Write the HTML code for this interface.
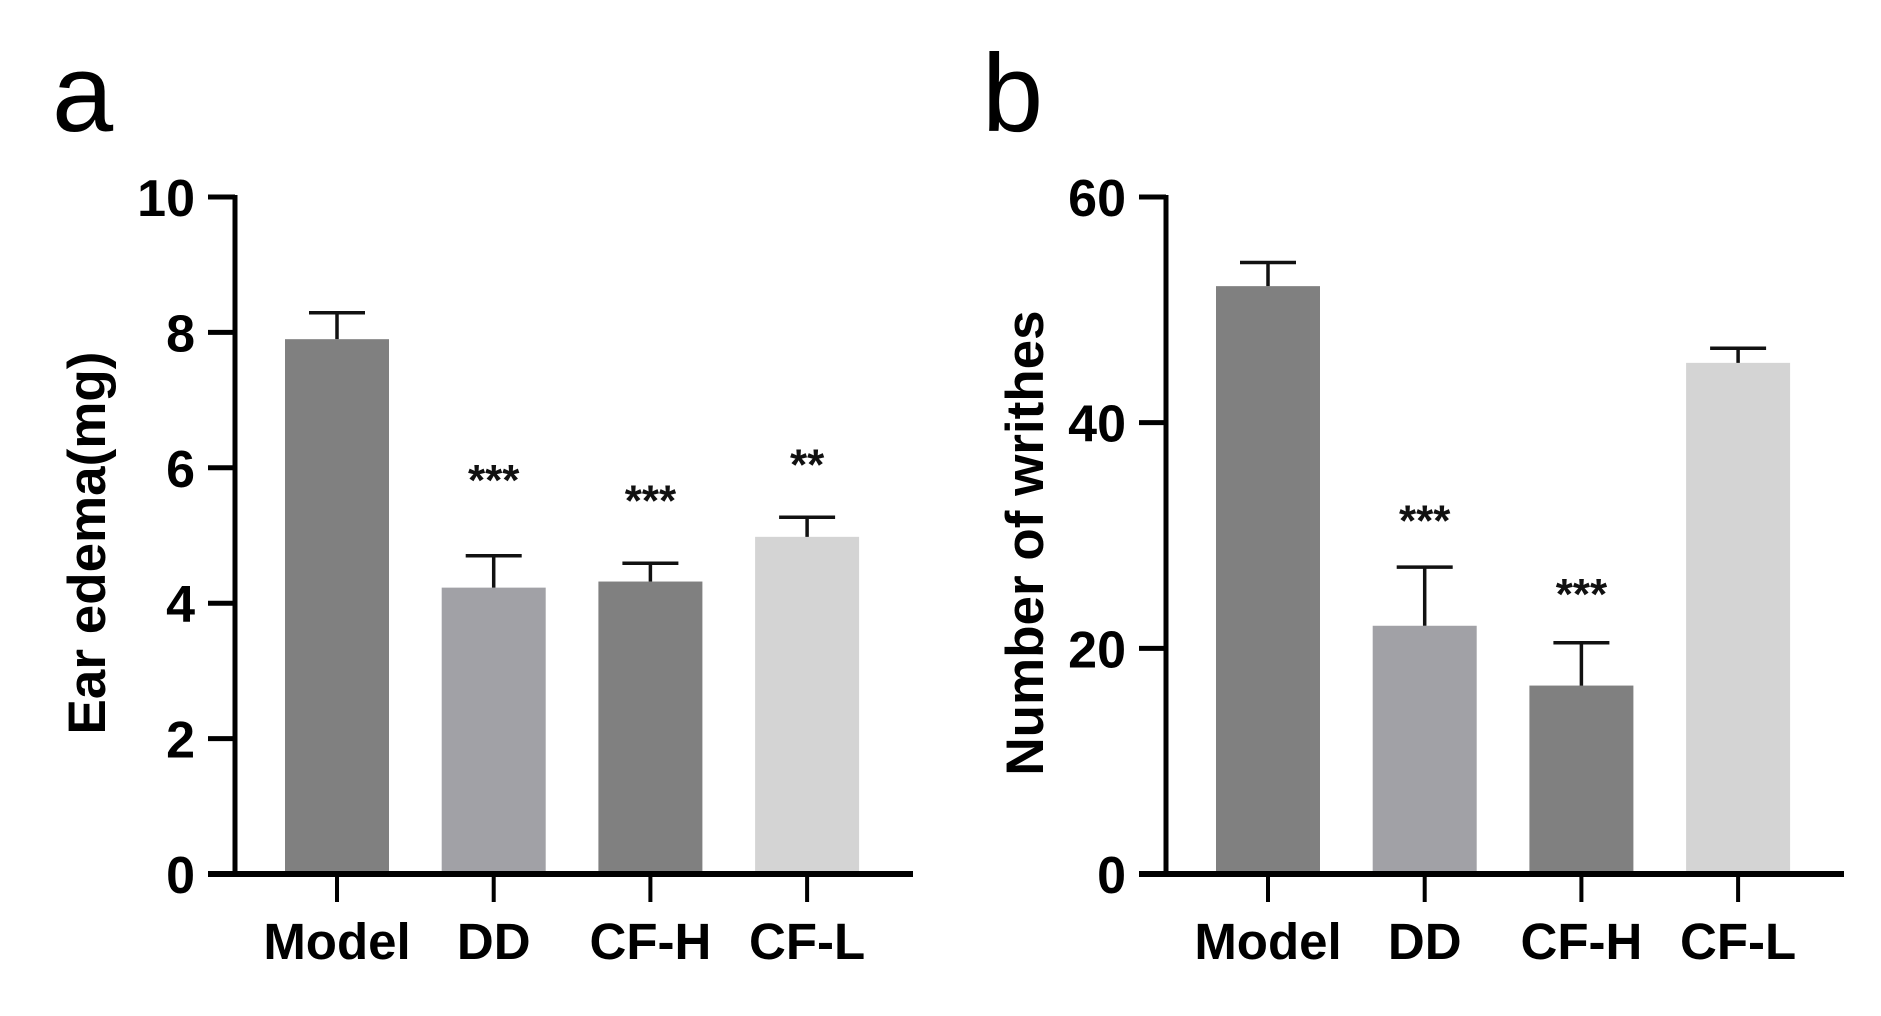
<!DOCTYPE html>
<html><head><meta charset="utf-8"><style>
html,body{margin:0;padding:0;background:#fff;}
svg{display:block;font-family:"Liberation Sans",Arial,sans-serif;}
</style></head><body>
<svg id="chart" width="1881" height="1016" viewBox="0 0 1881 1016"></svg>
<script>
const categories = ["Model","DD","CF-H","CF-L"];
const colors = ["#808080","#a1a1a6","#808080","#d4d4d4"];
const valuesA = [7.9, 4.23, 4.32, 4.98];
const errorsA = [8.29, 4.7, 4.59, 5.27];
const sigA = ["", "***", "***", "**"];
const sigPosA = [0, 5.85, 5.55, 6.08];
const ticksA = [0, 2, 4, 6, 8, 10];
const valuesB = [52.1, 22.0, 16.7, 45.3];
const errorsB = [54.2, 27.2, 20.5, 46.6];
const sigB = ["", "***", "***", ""];
const sigPosB = [0, 31.5, 25.0, 0];
const ticksB = [0, 20, 40, 60];

const NS = "http://www.w3.org/2000/svg";
const svg = document.getElementById("chart");
function mk(tag, attrs, parent){
  const e = document.createElementNS(NS, tag);
  for (const k in attrs) e.setAttribute(k, attrs[k]);
  (parent||svg).appendChild(e);
  return e;
}

function panel(opt){
  const g = mk("g", {});
  
  
  const x0 = opt.ox, yTop = 197, yBot = 874;
  const y = v => yBot - (v - 0) / opt.max * (yBot - yTop);
  const xc = i => x0 + 102 + i * 156.7;
  opt.values.forEach((v, i) => {
    const r = mk("rect", {x: xc(i) - 52, y: y(v), width: 104, height: yBot - y(v), fill: colors[i]}, g);
    
    
    const eb = mk("path", {d: `M${xc(i)} ${y(v)} V${y(opt.errors[i])} M${xc(i)-28} ${y(opt.errors[i])} H${xc(i)+28}`, stroke: "#111", "stroke-width": 3.5, fill: "none"}, g);
    
    
    if (opt.sig[i]) {
      const s = mk("text", {x: xc(i), y: y(opt.sigPos[i]) + 17, "text-anchor": "middle", "font-size": 44, "font-weight": "bold", fill: "#111"}, g);
      s.textContent = opt.sig[i];
      
      
    }
    const t = mk("line", {x1: xc(i), x2: xc(i), y1: yBot, y2: 902, stroke: "#000", "stroke-width": 4}, g);
    
    
    const lb = mk("text", {x: xc(i), y: 959, "text-anchor": "middle", "font-size": 51, "font-weight": "bold", fill: "#000"}, g);
    lb.textContent = categories[i];
    
    
  });
  const ya = mk("line", {x1: x0, x2: x0, y1: yTop - 2, y2: yBot + 2, stroke: "#000", "stroke-width": 5}, g);
  
  
  const xa = mk("line", {x1: x0 - 27, x2: x0 + 678, y1: yBot, y2: yBot, stroke: "#000", "stroke-width": 6}, g);
  
  
  opt.ticks.forEach(tv => {
    const tk = mk("line", {x1: x0 - 27, x2: x0, y1: y(tv), y2: y(tv), stroke: "#000", "stroke-width": 5}, g);
    
    
    const tl = mk("text", {x: x0 - 40, y: y(tv) + 19, "text-anchor": "end", "font-size": 52, "font-weight": "bold", fill: "#000"}, g);
    tl.textContent = tv;
    
    
  });
  const yt = mk("text", {x: 0, y: 0, transform: `translate(${opt.titleX},543) rotate(-90)`, "text-anchor": "middle", "font-size": 53, "font-weight": "bold", fill: "#000"}, g);
  yt.textContent = opt.title;
  
  
  const pl = mk("text", {x: opt.letterX, y: 131, "font-size": 110, fill: "#000"}, g);
  pl.textContent = opt.letter;
  
  
}

panel({name: "panel-a-ear-edema", ox: 235, max: 10, values: valuesA, errors: errorsA, sig: sigA, sigPos: sigPosA, ticks: ticksA, title: "Ear edema(mg)", titleX: 105, letter: "a", letterX: 52});
panel({name: "panel-b-writhes", ox: 1166, max: 60, values: valuesB, errors: errorsB, sig: sigB, sigPos: sigPosB, ticks: ticksB, title: "Number of writhes", titleX: 1043, letter: "b", letterX: 982});
</script>
</body></html>
